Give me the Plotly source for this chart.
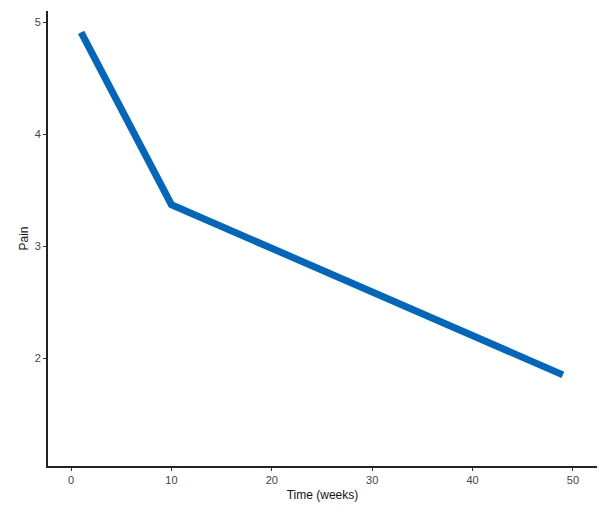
import plotly.graph_objects as go

time_weeks = [1, 10, 49]
pain = [4.91, 3.37, 1.85]
x_ticks = [0, 10, 20, 30, 40, 50]
y_ticks = [2, 3, 4, 5]

fig = go.Figure()
fig.add_trace(go.Scatter(
    x=time_weeks, y=pain, mode="lines",
    line=dict(color="#0067bd", width=7),
    showlegend=False,
))

fig.update_layout(
    width=608, height=514,
    margin=dict(l=48, r=11, t=11, b=48),
    paper_bgcolor="white", plot_bgcolor="white",
    font=dict(family="Liberation Sans, Arial, sans-serif", color="#222"),
)
fig.update_xaxes(
    range=[-2.3, 52.4], tickvals=x_ticks, ticktext=[str(v) for v in x_ticks],
    showgrid=False, zeroline=False, showline=True, linecolor="#222", linewidth=2,
    ticks="outside", ticklen=3, tickcolor="#333", tickfont=dict(size=11, color="#444"),
    title=dict(text="Time (weeks)", font=dict(size=12, color="#111"), standoff=5),
)
fig.update_yaxes(
    range=[1.036, 5.1], tickvals=y_ticks, ticktext=[str(v) for v in y_ticks],
    showgrid=False, zeroline=False, showline=True, linecolor="#222", linewidth=2,
    ticks="outside", ticklen=3, tickcolor="#333", tickfont=dict(size=11, color="#444"),
    title=dict(text="Pain", font=dict(size=12, color="#111"), standoff=3),
)

fig.write_html("out.html")
